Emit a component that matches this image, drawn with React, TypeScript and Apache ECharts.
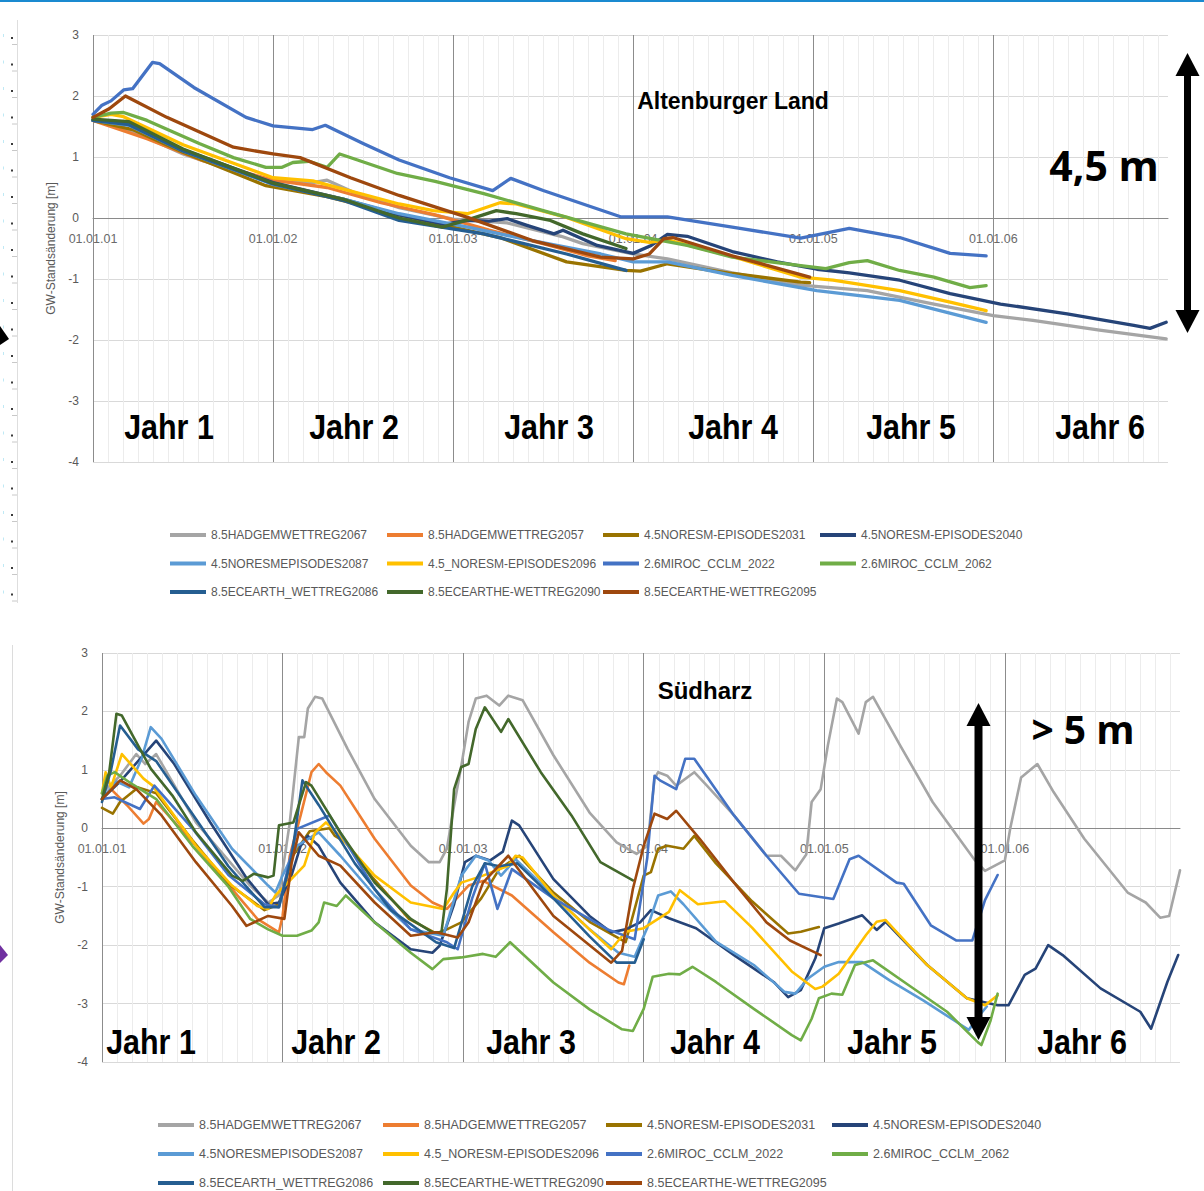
import React, { useEffect, useRef } from "react";
import * as echarts from "echarts";

const FONT = "'Liberation Sans', Arial, sans-serif";

const seriesNames = [
  "8.5HADGEMWETTREG2067",
  "8.5HADGEMWETTREG2057",
  "4.5NORESM-EPISODES2031",
  "4.5NORESM-EPISODES2040",
  "4.5NORESMEPISODES2087",
  "4.5_NORESM-EPISODES2096",
  "2.6MIROC_CCLM_2022",
  "2.6MIROC_CCLM_2062",
  "8.5ECEARTH_WETTREG2086",
  "8.5ECEARTHE-WETTREG2090",
  "8.5ECEARTHE-WETTREG2095",
];
const seriesColors = [
  "#A5A5A5", "#ED7D31", "#997300", "#264478", "#5B9BD5", "#FFC000",
  "#4472C4", "#70AD47", "#255E91", "#43682B", "#9E480E",
];
const yearLabels = ["01.01.01", "01.01.02", "01.01.03", "01.01.04", "01.01.05", "01.01.06"];
const jahrLabels = ["Jahr 1", "Jahr 2", "Jahr 3", "Jahr 4", "Jahr 5", "Jahr 6"];
const yTicks = { min: -4, max: 3, interval: 1 };

// ---------- Altenburger Land (top) : [Jahr, m] ----------
const tHad2067 = [[0,1.6],[0.2,1.45],[0.5,1.05],[0.8,0.75],[1.0,0.6],[1.22,0.58],[1.3,0.62],[1.45,0.42],[1.7,0.17],[2.0,-0.02],[2.3,-0.08],[2.6,-0.3],[2.72,-0.42],[3.0,-0.59],[3.19,-0.67],[3.55,-0.9],[3.93,-1.1],[4.3,-1.19],[4.67,-1.41],[5.0,-1.6],[5.22,-1.68],[5.59,-1.84],[5.96,-1.98]];
const tHad2057 = [[0,1.6],[0.3,1.3],[0.6,0.95],[1.0,0.62],[1.3,0.5],[1.6,0.25],[1.9,0.05],[2.2,-0.2],[2.5,-0.42],[2.75,-0.62],[2.9,-0.7]];
const tNor2031 = [[0,1.6],[0.22,1.45],[0.5,1.08],[0.96,0.53],[1.3,0.35],[1.7,0.05],[2.0,-0.15],[2.26,-0.32],[2.63,-0.72],[2.96,-0.86],[3.04,-0.87],[3.19,-0.75],[3.55,-0.91],[3.93,-1.05],[3.98,-1.06]];
const tNor2040 = [[0,1.6],[0.2,1.55],[0.5,1.12],[1.0,0.58],[1.4,0.3],[1.7,0.05],[1.95,-0.1],[2.08,-0.04],[2.2,-0.05],[2.3,-0.01],[2.41,-0.12],[2.56,-0.26],[2.61,-0.2],[2.8,-0.45],[3.0,-0.58],[3.1,-0.45],[3.19,-0.27],[3.3,-0.3],[3.55,-0.55],[3.8,-0.72],[4.02,-0.84],[4.2,-0.9],[4.48,-1.02],[4.76,-1.24],[5.04,-1.41],[5.41,-1.57],[5.78,-1.76],[5.87,-1.81],[5.96,-1.71]];
const tNor2087 = [[0,1.6],[0.2,1.52],[0.5,1.1],[1.0,0.55],[1.4,0.3],[1.7,0.07],[2.08,-0.15],[2.44,-0.37],[2.82,-0.59],[3.0,-0.72],[3.19,-0.72],[3.55,-0.94],[4.02,-1.19],[4.48,-1.35],[4.96,-1.71]];
const tNor2096 = [[0,1.65],[0.1,1.7],[0.17,1.66],[0.5,1.2],[1.0,0.66],[1.22,0.61],[1.7,0.23],[1.89,0.12],[2.08,0.07],[2.26,0.25],[2.35,0.23],[2.63,0.01],[2.96,-0.34],[3.09,-0.4],[3.19,-0.36],[3.55,-0.63],[3.93,-0.97],[4.11,-1.02],[4.48,-1.19],[4.76,-1.38],[4.96,-1.52]];
const tMir2022 = [[0,1.7],[0.05,1.85],[0.1,1.92],[0.17,2.1],[0.22,2.12],[0.33,2.55],[0.37,2.53],[0.56,2.14],[0.85,1.65],[1.0,1.51],[1.22,1.45],[1.29,1.52],[1.5,1.22],[1.7,0.95],[1.98,0.66],[2.22,0.45],[2.32,0.65],[2.5,0.45],[2.93,0.02],[3.19,0.02],[3.55,-0.15],[3.93,-0.33],[4.2,-0.17],[4.48,-0.32],[4.76,-0.58],[4.96,-0.62]];
const tMir2062 = [[0,1.65],[0.1,1.72],[0.17,1.73],[0.3,1.6],[0.59,1.22],[0.78,0.99],[0.96,0.83],[1.05,0.83],[1.11,0.91],[1.2,0.93],[1.3,0.83],[1.37,1.05],[1.42,1.0],[1.69,0.73],[1.9,0.6],[2.17,0.4],[2.5,0.12],[2.96,-0.26],[3.3,-0.45],[3.55,-0.64],[3.93,-0.78],[4.07,-0.83],[4.2,-0.73],[4.3,-0.7],[4.48,-0.86],[4.67,-0.97],[4.87,-1.14],[4.96,-1.11]];
const tEce2086 = [[0,1.6],[0.2,1.53],[0.5,1.1],[1.0,0.56],[1.4,0.28],[1.7,-0.04],[2.17,-0.26],[2.63,-0.59],[2.96,-0.86]];
const tEce2090 = [[0,1.62],[0.2,1.58],[0.5,1.13],[1.0,0.57],[1.4,0.3],[1.7,0.0],[1.94,-0.15],[2.08,-0.03],[2.24,0.12],[2.35,0.07],[2.54,-0.04],[2.72,-0.26],[2.96,-0.5]];
const tEce2095 = [[0,1.65],[0.09,1.79],[0.18,2.0],[0.41,1.65],[0.78,1.16],[1.0,1.05],[1.15,0.99],[1.43,0.66],[1.7,0.37],[2.08,0.01],[2.44,-0.37],[2.82,-0.64],[3.0,-0.67],[3.09,-0.59],[3.17,-0.34],[3.22,-0.32],[3.55,-0.62],[3.98,-0.97]];

// ---------- Südharz (bottom) : [Jahr, m] ----------
const bHad2067 = [[0,0.6],[0.1,0.9],[0.19,1.27],[0.24,1.1],[0.3,1.27],[0.52,0.1],[0.82,-0.98],[0.92,-1.27],[0.98,-1.15],[1.04,0.1],[1.09,1.56],[1.12,1.56],[1.14,2.05],[1.18,2.25],[1.22,2.22],[1.36,1.36],[1.51,0.5],[1.71,-0.3],[1.81,-0.58],[1.87,-0.58],[1.91,-0.35],[1.95,0.39],[1.99,1.07],[2.03,1.82],[2.07,2.22],[2.13,2.27],[2.2,2.1],[2.25,2.27],[2.33,2.19],[2.5,1.25],[2.7,0.27],[2.85,-0.24],[2.96,-0.44],[3.02,-0.3],[3.06,0.85],[3.08,0.96],[3.13,0.9],[3.18,0.73],[3.28,0.96],[3.35,0.73],[3.5,0.22],[3.68,-0.47],[3.76,-0.47],[3.84,-0.72],[3.9,-0.45],[3.93,0.45],[3.98,0.67],[4.02,1.42],[4.07,2.22],[4.1,2.16],[4.19,1.62],[4.23,2.16],[4.27,2.25],[4.42,1.42],[4.6,0.45],[4.83,-0.53],[4.89,-0.73],[5.0,-0.55],[5.03,0.0],[5.09,0.87],[5.18,1.1],[5.27,0.62],[5.44,-0.18],[5.68,-1.1],[5.78,-1.27],[5.86,-1.53],[5.91,-1.5],[5.97,-0.72]];
const bHad2057 = [[0,0.5],[0.05,0.67],[0.14,0.39],[0.23,0.08],[0.26,0.16],[0.3,0.45],[0.52,-0.3],[0.72,-1.04],[0.86,-1.55],[0.98,-1.78],[1.0,-1.5],[1.04,-0.47],[1.1,0.22],[1.16,0.96],[1.2,1.1],[1.24,0.96],[1.32,0.73],[1.51,-0.18],[1.71,-0.98],[1.83,-1.27],[1.91,-1.38],[2.03,-0.98],[2.11,-0.9],[2.27,-1.15],[2.5,-1.78],[2.7,-2.3],[2.86,-2.64],[2.89,-2.67],[2.92,-2.35]];
const bNor2031 = [[0,0.35],[0.06,0.25],[0.1,0.45],[0.2,0.7],[0.3,0.6],[0.5,-0.2],[0.7,-0.95],[0.9,-1.4],[0.98,-1.3],[1.05,-0.5],[1.15,-0.05],[1.26,0.0],[1.29,-0.13],[1.35,-0.24],[1.5,-0.85],[1.7,-1.55],[1.85,-1.8],[1.91,-1.73],[1.99,-1.61],[2.1,-1.2],[2.2,-0.7],[2.31,-0.47],[2.5,-1.1],[2.7,-1.6],[2.9,-1.95],[3.0,-0.81],[3.04,-0.75],[3.08,-0.35],[3.13,-0.3],[3.22,-0.35],[3.28,-0.13],[3.4,-0.6],[3.6,-1.25],[3.8,-1.8],[3.87,-1.77],[3.97,-1.69]];
const bNor2040 = [[0,0.5],[0.1,0.8],[0.2,1.15],[0.3,1.5],[0.4,1.1],[0.6,0.1],[0.8,-0.85],[0.92,-1.3],[0.98,-1.27],[1.05,-0.8],[1.1,-0.3],[1.14,-0.13],[1.2,-0.3],[1.32,-0.93],[1.51,-1.61],[1.71,-2.07],[1.83,-2.13],[1.87,-2.01],[1.95,-1.3],[2.01,-0.58],[2.07,-0.47],[2.15,-0.55],[2.22,-0.4],[2.27,0.13],[2.31,0.05],[2.5,-0.87],[2.7,-1.5],[2.82,-1.78],[2.9,-1.73],[2.98,-1.61],[3.04,-1.4],[3.14,-1.54],[3.29,-1.71],[3.5,-2.17],[3.72,-2.63],[3.8,-2.89],[3.87,-2.77],[3.95,-2.23],[4.0,-1.71],[4.08,-1.63],[4.21,-1.49],[4.29,-1.74],[4.34,-1.6],[4.57,-2.34],[4.79,-2.91],[4.96,-3.03],[5.02,-3.03],[5.11,-2.51],[5.17,-2.4],[5.24,-2.0],[5.32,-2.17],[5.53,-2.74],[5.75,-3.14],[5.81,-3.43],[5.9,-2.63],[5.96,-2.17]];
const bNor2087 = [[0,0.5],[0.08,0.8],[0.15,0.7],[0.22,1.2],[0.27,1.73],[0.33,1.53],[0.52,0.56],[0.72,-0.35],[0.92,-0.98],[0.96,-1.1],[1.0,-0.81],[1.08,-0.3],[1.2,-0.07],[1.32,-0.47],[1.51,-1.15],[1.71,-1.73],[1.89,-1.84],[1.99,-0.81],[2.07,-0.47],[2.14,-0.55],[2.21,-0.81],[2.29,-0.53],[2.5,-1.15],[2.7,-1.73],[2.86,-2.13],[2.95,-2.2],[3.02,-1.7],[3.08,-1.15],[3.15,-1.08],[3.22,-1.3],[3.4,-1.94],[3.61,-2.34],[3.78,-2.8],[3.84,-2.83],[3.91,-2.57],[4.0,-2.37],[4.08,-2.29],[4.21,-2.29],[4.36,-2.6],[4.55,-2.95],[4.75,-3.35],[4.8,-3.45],[4.86,-3.2],[4.9,-3.05]];
const bNor2096 = [[0,0.6],[0.02,0.96],[0.05,0.7],[0.11,1.27],[0.23,0.85],[0.28,0.73],[0.52,-0.3],[0.72,-0.98],[0.86,-1.33],[0.92,-1.38],[0.96,-1.15],[1.12,-0.64],[1.18,-0.07],[1.24,0.1],[1.28,-0.01],[1.51,-0.81],[1.71,-1.27],[1.89,-1.38],[1.95,-1.1],[1.99,-0.93],[2.11,-0.81],[2.25,-0.64],[2.29,-0.47],[2.33,-0.5],[2.5,-1.15],[2.7,-1.73],[2.82,-2.07],[2.9,-1.77],[3.0,-1.71],[3.14,-1.43],[3.2,-1.06],[3.3,-1.3],[3.45,-1.25],[3.6,-1.7],[3.82,-2.45],[3.95,-2.75],[3.99,-2.71],[4.08,-2.49],[4.23,-1.83],[4.29,-1.6],[4.34,-1.57],[4.57,-2.34],[4.79,-2.91],[4.89,-3.03],[4.96,-2.86]];
const bMir2022 = [[0,0.5],[0.07,0.53],[0.21,0.33],[0.29,0.73],[0.5,0.0],[0.7,-0.8],[0.9,-1.3],[0.98,-1.35],[1.08,-0.01],[1.26,0.22],[1.51,-1.04],[1.71,-1.73],[1.91,-1.95],[1.97,-2.07],[2.05,-1.2],[2.12,-0.6],[2.19,-1.38],[2.27,-0.7],[2.5,-1.2],[2.8,-1.73],[2.95,-1.9],[3.02,-0.5],[3.06,0.9],[3.09,0.82],[3.18,0.67],[3.23,1.19],[3.28,1.19],[3.5,0.22],[3.68,-0.47],[3.86,-1.12],[4.05,-1.21],[4.14,-0.53],[4.19,-0.47],[4.4,-0.93],[4.44,-0.95],[4.59,-1.66],[4.73,-1.92],[4.82,-1.92],[4.89,-1.23],[4.96,-0.8]];
const bMir2062 = [[0,0.6],[0.03,0.9],[0.07,0.96],[0.17,0.75],[0.3,0.5],[0.5,-0.3],[0.7,-1.0],[0.82,-1.55],[0.92,-1.73],[1.0,-1.84],[1.08,-1.84],[1.16,-1.75],[1.2,-1.61],[1.23,-1.27],[1.3,-1.33],[1.35,-1.15],[1.51,-1.61],[1.71,-2.13],[1.83,-2.41],[1.89,-2.24],[1.99,-2.21],[2.11,-2.15],[2.18,-2.2],[2.26,-1.95],[2.5,-2.64],[2.7,-3.1],[2.88,-3.44],[2.94,-3.47],[3.0,-3.09],[3.05,-2.54],[3.14,-2.49],[3.2,-2.5],[3.27,-2.37],[3.4,-2.63],[3.61,-3.09],[3.82,-3.54],[3.87,-3.63],[3.93,-3.26],[3.97,-2.91],[4.04,-2.83],[4.1,-2.85],[4.17,-2.34],[4.27,-2.26],[4.47,-2.69],[4.68,-3.14],[4.85,-3.66],[4.87,-3.71],[4.92,-3.3],[4.96,-2.83]];
const bEce2086 = [[0,0.45],[0.05,1.0],[0.1,1.76],[0.2,1.35],[0.3,1.15],[0.5,0.25],[0.7,-0.65],[0.9,-1.35],[0.98,-1.35],[1.05,-0.5],[1.11,0.82],[1.2,0.4],[1.4,-0.6],[1.6,-1.4],[1.85,-1.95],[1.95,-2.05],[2.05,-1.0],[2.12,-0.6],[2.2,-0.65],[2.3,-0.6],[2.5,-1.2],[2.7,-1.85],[2.85,-2.3],[2.95,-2.3],[3.0,-1.9]];
const bEce2090 = [[0,0.5],[0.04,0.96],[0.08,1.96],[0.11,1.93],[0.27,1.02],[0.39,0.56],[0.52,-0.07],[0.72,-0.81],[0.78,-0.9],[0.84,-0.78],[0.92,-0.84],[0.95,-0.81],[0.98,0.05],[1.01,0.07],[1.06,0.1],[1.13,0.79],[1.16,0.73],[1.32,-0.07],[1.51,-0.93],[1.71,-1.55],[1.83,-1.78],[1.88,-1.78],[1.91,-1.04],[1.95,0.67],[1.99,1.05],[2.03,1.1],[2.07,1.7],[2.12,2.07],[2.21,1.65],[2.25,1.87],[2.43,0.96],[2.6,0.22],[2.76,-0.58],[2.94,-0.89]];
const bEce2095 = [[0,0.5],[0.1,0.82],[0.19,0.67],[0.33,0.22],[0.52,-0.58],[0.72,-1.33],[0.8,-1.67],[0.92,-1.5],[1.01,-1.55],[1.05,-0.6],[1.09,-0.07],[1.2,-0.47],[1.32,-0.64],[1.51,-1.27],[1.71,-1.84],[1.85,-1.78],[1.97,-1.87],[2.03,-1.61],[2.11,-0.93],[2.25,-0.47],[2.5,-1.5],[2.82,-2.3],[2.88,-2.1],[2.94,-1.04],[3.0,-0.3],[3.06,0.25],[3.13,0.16],[3.18,0.3],[3.31,-0.18],[3.5,-0.93],[3.68,-1.61],[3.81,-1.92],[3.98,-2.17]];

const topSeries = [tHad2067, tHad2057, tNor2031, tNor2040, tNor2087, tNor2096, tMir2022, tMir2062, tEce2086, tEce2090, tEce2095];
const bottomSeries = [bHad2067, bHad2057, bNor2031, bNor2040, bNor2087, bNor2096, bMir2022, bMir2062, bEce2086, bEce2090, bEce2095];

const X_MAX = 5.97;

// panel geometry
const TOP_GRID = { left: 93, top: 35, width: 1075, height: 427 };
const BOT_GRID = { left: 102, top: 653, width: 1078, height: 409 };
// distance from grid bottom up to the zero line (value 0 within -4..3)
const zeroOffset = (h: number) => -(h * (0 - yTicks.min)) / (yTicks.max - yTicks.min);

function xAxisFor(idx: number, h: number) {
  return {
    type: "value",
    gridIndex: idx,
    position: "bottom",
    offset: zeroOffset(h),
    min: 0,
    max: X_MAX,
    interval: 1,
    axisLine: { show: true, onZero: false, lineStyle: { color: "#8a8a8a", width: 1 } },
    axisTick: { show: false },
    axisLabel: {
      formatter: (v: number) => (Number.isInteger(v) && v < yearLabels.length ? yearLabels[v] : ""),
      color: "#6a6a6a",
      fontSize: 12.5,
      fontFamily: FONT,
      margin: 14,
      showMaxLabel: false,
    },
    splitLine: {
      show: true,
      lineStyle: { color: ["#8c8c8c", "#8c8c8c", "#8c8c8c", "#8c8c8c", "#8c8c8c", "#8c8c8c", "rgba(0,0,0,0)"], width: 1 },
    },
    minorTick: { show: false, splitNumber: 12 },
    minorSplitLine: { show: true, lineStyle: { color: "#ececec", width: 1 } },
  };
}

function yAxisFor(idx: number, margin: number, nameGap: number) {
  return {
    type: "value",
    gridIndex: idx,
    min: yTicks.min,
    max: yTicks.max,
    interval: yTicks.interval,
    axisLine: { show: false },
    axisTick: { show: false },
    axisLabel: { color: "#595959", fontSize: 12, fontFamily: FONT, margin },
    splitLine: { show: true, lineStyle: { color: "#d9d9d9", width: 1 } },
    name: "GW-Standsänderung [m]",
    nameLocation: "middle",
    nameGap,
    nameTextStyle: { color: "#595959", fontSize: 12, fontFamily: FONT },
  };
}

const legendColumns = [[0, 4, 8], [1, 5, 9], [2, 6, 10], [3, 7]];

function legendsFor(lefts: number[], top: number, gap: number, fontSize: number) {
  return legendColumns.map((col, c) => ({
    data: col.map((i) => seriesNames[i]),
    orient: "vertical",
    left: lefts[c],
    top,
    padding: 0,
    itemGap: gap,
    itemWidth: 36,
    itemHeight: 4,
    icon: "rect",
    selectedMode: false,
    textStyle: { color: "#595959", fontSize, fontFamily: FONT, lineHeight: 16 },
  }));
}

function doubleArrow(cx: number, yTop: number, yBot: number, shaft: number) {
  const hw = 12;
  const hh = 23;
  return [
    { type: "rect", shape: { x: cx - shaft / 2, y: yTop + hh - 2, width: shaft, height: yBot - yTop - 2 * hh + 4 }, style: { fill: "#000" }, z: 100 },
    { type: "polygon", shape: { points: [[cx, yTop], [cx + hw, yTop + hh], [cx - hw, yTop + hh]] }, style: { fill: "#000" }, z: 100 },
    { type: "polygon", shape: { points: [[cx, yBot], [cx + hw, yBot - hh], [cx - hw, yBot - hh]] }, style: { fill: "#000" }, z: 100 },
  ];
}

function jahrTexts(centers: number[], y: number) {
  return jahrLabels.map((t, i) => ({
    type: "text",
    x: centers[i],
    y,
    scaleX: 0.87,
    z: 100,
    style: { text: t, fill: "#000", font: `bold 35px ${FONT}`, textAlign: "center", textVerticalAlign: "middle" },
  }));
}

function decorations() {
  const els: any[] = [];
  els.push({ type: "rect", shape: { x: 0, y: 0, width: 1204, height: 2 }, style: { fill: "#1a8ad0" }, z: 100 });
  els.push({ type: "line", shape: { x1: 17.5, y1: 20, x2: 17.5, y2: 603 }, style: { stroke: "#dedede", lineWidth: 1 }, z: 100 });
  for (let k = 0; k < 22; k++) {
    const yy = 37 + k * 26.5;
    els.push({ type: "rect", shape: { x: 11, y: yy, width: 2, height: 2 }, style: { fill: "#3a3a3a" }, z: 100 });
    els.push({ type: "line", shape: { x1: 12, y1: yy + 7.5, x2: 17, y2: yy + 7.5 }, style: { stroke: "#c8c8c8", lineWidth: 1 }, z: 100 });
    els.push({ type: "rect", shape: { x: 3, y: yy - 3, width: 1, height: 3 }, style: { fill: "#bfe9f5" }, z: 100 });
  }
  els.push({ type: "polygon", shape: { points: [[0, 326], [9, 339], [0, 345]] }, style: { fill: "#000" }, z: 100 });
  els.push({ type: "line", shape: { x1: 12.5, y1: 645, x2: 12.5, y2: 1191 }, style: { stroke: "#dcdcdc", lineWidth: 1 }, z: 100 });
  els.push({ type: "polygon", shape: { points: [[0, 945], [8, 955], [0, 963]] }, style: { fill: "#7030a0" }, z: 100 });
  return els;
}

export default function App() {
  const ref = useRef<HTMLDivElement>(null);
  useEffect(() => {
    document.body.style.margin = "0";
    if (!ref.current) return;
    const chart = echarts.init(ref.current, undefined, { renderer: "svg" });

    const mkSeries = (data: number[][], i: number, panel: number) => ({
      type: "line",
      name: seriesNames[i],
      xAxisIndex: panel,
      yAxisIndex: panel,
      data,
      symbol: "none",
      showSymbol: false,
      clip: true,
      lineStyle: { width: panel === 0 ? 3.3 : 2.6, color: seriesColors[i], join: "round", cap: "round" },
      itemStyle: { color: seriesColors[i] },
      emphasis: { disabled: true },
    });

    const option: any = {
      animation: false,
      backgroundColor: "#ffffff",
      grid: [TOP_GRID, BOT_GRID],
      xAxis: [xAxisFor(0, TOP_GRID.height), xAxisFor(1, BOT_GRID.height)],
      yAxis: [yAxisFor(0, 14, 34), yAxisFor(1, 14, 36)],
      legend: [
        ...legendsFor([170, 387, 603, 820], 527, 12.5, 12),
        ...legendsFor([158, 383, 606, 832], 1117, 13, 12.5),
      ],
      series: [
        ...topSeries.map((d, i) => mkSeries(d, i, 0)),
        ...bottomSeries.map((d, i) => mkSeries(d, i, 1)),
      ],
      graphic: [
        ...decorations(),
        { type: "text", x: 733, y: 101, z: 100, style: { text: "Altenburger Land", fill: "#000", font: `bold 23px ${FONT}`, textAlign: "center", textVerticalAlign: "middle" } },
        { type: "text", x: 705, y: 690, z: 100, style: { text: "Südharz", fill: "#000", font: `bold 24px ${FONT}`, textAlign: "center", textVerticalAlign: "middle" } },
        ...jahrTexts([169, 354, 549, 733, 911, 1100], 427),
        ...jahrTexts([151, 336, 531, 715, 892, 1082], 1042),
        { type: "text", x: 1104, y: 165, z: 100, style: { text: "4,5 m", fill: "#000", font: `bold 41px 'Open Sans', ${FONT}`, textAlign: "center", textVerticalAlign: "middle" } },
        { type: "text", x: 1083, y: 728, z: 100, style: { text: "> 5 m", fill: "#000", font: `bold 39px 'Open Sans', ${FONT}`, textAlign: "center", textVerticalAlign: "middle" } },
        ...doubleArrow(1187.5, 53, 333, 7),
        ...doubleArrow(978.5, 703, 1040, 8),
      ],
    };
    chart.setOption(option);
    return () => chart.dispose();
  }, []);
  return <div ref={ref} style={{ position: "absolute", left: 0, top: 0, width: 1204, height: 1191, background: "#fff" }} />;
}
